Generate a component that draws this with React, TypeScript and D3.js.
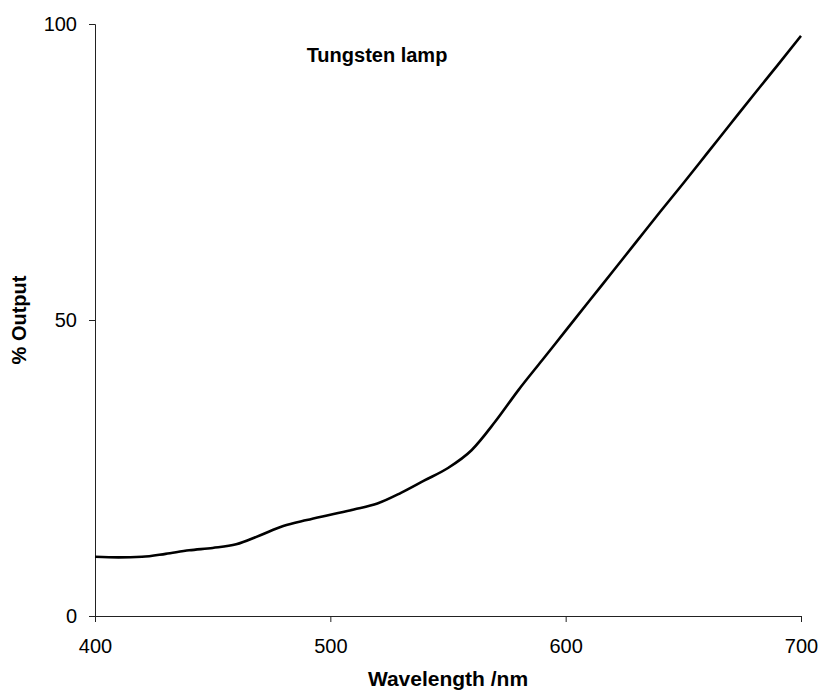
import React, { useEffect, useRef } from 'react';
import * as d3 from 'd3';

// values (% output by wavelength)
const wavelengths = [400, 410, 420, 430, 440, 450, 460, 470, 480, 490, 500, 510, 520, 530, 540, 550, 560, 570, 580, 590, 600, 610, 620, 630, 640, 650, 660, 670, 680, 690, 700];
const output = [10.0, 9.9, 10.0, 10.5, 11.1, 11.5, 12.1, 13.6, 15.2, 16.2, 17.1, 18.0, 19.0, 20.8, 22.9, 25.0, 28.0, 32.8, 38.2, 43.2, 48.2, 53.2, 58.2, 63.2, 68.2, 73.1, 78.1, 83.1, 88.1, 93.0, 98.0];
const xTicks = [400, 500, 600, 700];
const yTicks = [0, 50, 100];

const W = 821;
const H = 692;
const margin = { top: 24, right: 20, bottom: 76, left: 95 };

export default function App() {
  const ref = useRef<SVGSVGElement>(null);

  useEffect(() => {
    const svg = d3.select(ref.current);
    svg.selectAll('*').remove();

    const width = 801 - margin.left;
    const height = 616 - margin.top;

    const x = d3.scaleLinear().domain([400, 700]).range([0, width]);
    const y = d3.scaleLinear().domain([0, 100]).range([height, 0]);

    const g = svg.append('g').attr('transform', 'translate(' + margin.left + ',' + margin.top + ')');

    const xAxis = g.append('g')
      .attr('transform', 'translate(0,' + height + ')')
      .call(d3.axisBottom(x).tickValues(xTicks).tickSize(6).tickPadding(17).tickFormat(d3.format('d')));
    const yAxis = g.append('g')
      .call(d3.axisLeft(y).tickValues(yTicks).tickSize(6).tickPadding(12).tickFormat(d3.format('d')));

    [xAxis, yAxis].forEach(a => {
      a.select('.domain').attr('stroke', '#222');
      a.selectAll('.tick line').attr('stroke', '#222');
      a.selectAll('.tick text')
        .attr('fill', '#000')
        .style('font-family', 'Liberation Sans, Arial, sans-serif')
        .style('font-size', '20px');
    });

    const data = wavelengths.map((w, i) => [w, output[i]] as [number, number]);
    const line = d3.line<[number, number]>()
      .x(d => x(d[0]))
      .y(d => y(d[1]))
      .curve(d3.curveMonotoneX);

    g.append('path')
      .datum(data)
      .attr('fill', 'none')
      .attr('stroke', '#000')
      .attr('stroke-width', 2.6)
      .attr('d', line);

    const font = 'Liberation Sans, Arial, sans-serif';
    svg.append('text')
      .attr('x', 377).attr('y', 62)
      .attr('text-anchor', 'middle')
      .style('font-family', font).style('font-size', '20px').style('font-weight', 'bold')
      .text('Tungsten lamp');

    svg.append('text')
      .attr('transform', 'translate(26,320) rotate(-90)')
      .attr('text-anchor', 'middle')
      .style('font-family', font).style('font-size', '20px').style('font-weight', 'bold')
      .text('% Output');

    svg.append('text')
      .attr('x', margin.left + width / 2).attr('y', 686)
      .attr('text-anchor', 'middle')
      .style('font-family', font).style('font-size', '21px').style('font-weight', 'bold')
      .text('Wavelength /nm');
  }, []);

  return (
    <svg ref={ref} width={W} height={H} style={{ position: 'absolute', left: 0, top: 0, background: '#fff' }} />
  );
}
